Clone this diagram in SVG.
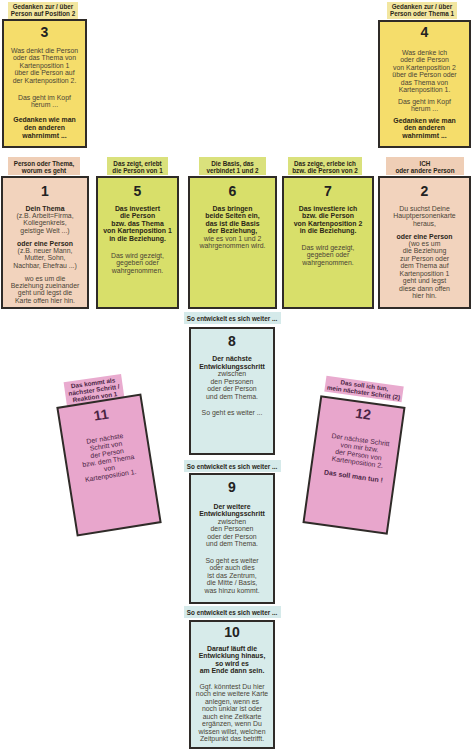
<svg xmlns="http://www.w3.org/2000/svg" width="474" height="750" viewBox="0 0 474 750">
<style>
text{font-family:"Liberation Sans",Arial,sans-serif;text-anchor:middle}
.card{stroke:#2f2b28;stroke-width:2}
.yel{fill:#f5dd6b}.yl{fill:#f2e6a0}
.grn{fill:#d8df6a}.gl{fill:#dae17c}
.pch{fill:#f2d3bd}.pl{fill:#efceb6}
.blu{fill:#d7ebea}.bl{fill:#d5eaea}
.pnk{fill:#e8a6cc}.pkl{fill:#e9abcf}
.num{font-size:14px;font-weight:bold;fill:#222}
.b{font-size:6.9px;font-weight:bold;fill:#2a2618}
.t{font-size:6.9px;fill:#4a4336}
.lbl{font-size:6.3px;font-weight:bold;fill:#2a2618}
.pk{fill:#4a2444}
</style>
<g id="label-3"><rect class="yl" x="8" y="2" width="70" height="17"/><text class="lbl" x="43" y="8.5">Gedanken zur / über</text><text class="lbl" x="43" y="16">Person auf Position 2</text></g>
<g id="card-3"><rect class="card yel" x="3" y="20" width="83" height="127"/>
<text class="num" x="44.5" y="37">3</text>
<text class="t" x="44.5" y="52.5">Was denkt die Person</text>
<text class="t" x="44.5" y="60">oder das Thema von</text>
<text class="t" x="44.5" y="67.5">Kartenposition 1</text>
<text class="t" x="44.5" y="75">über die Person auf</text>
<text class="t" x="44.5" y="82.5">der Kartenposition 2.</text>
<text class="t" x="44.5" y="99.5">Das geht im Kopf</text>
<text class="t" x="44.5" y="107">herum ...</text>
<text class="b" x="44.5" y="121.5">Gedanken wie man</text>
<text class="b" x="44.5" y="129.5">den anderen</text>
<text class="b" x="44.5" y="137.5">wahrnimmt ...</text></g>
<g id="label-4"><rect class="yl" x="387" y="2" width="70" height="17"/><text class="lbl" x="422" y="8.5">Gedanken zur / über</text><text class="lbl" x="422" y="16">Person oder Thema 1</text></g>
<g id="card-4"><rect class="card yel" x="379" y="21" width="91" height="126"/>
<text class="num" x="424.5" y="37">4</text>
<text class="t" x="424.5" y="54.5">Was denke ich</text>
<text class="t" x="424.5" y="62">oder die Person</text>
<text class="t" x="424.5" y="69.5">von Kartenposition 2</text>
<text class="t" x="424.5" y="77">über die Person oder</text>
<text class="t" x="424.5" y="84.5">das Thema von</text>
<text class="t" x="424.5" y="92">Kartenposition 1.</text>
<text class="t" x="424.5" y="103.5">Das geht im Kopf</text>
<text class="t" x="424.5" y="111">herum ...</text>
<text class="b" x="424.5" y="122.5">Gedanken wie man</text>
<text class="b" x="424.5" y="130">den anderen</text>
<text class="b" x="424.5" y="137.5">wahrnimmt ...</text></g>
<g id="label-1"><rect class="pl" x="8" y="157" width="72" height="18"/><text class="lbl" x="44" y="166">Person oder Thema,</text><text class="lbl" x="44" y="173">worum es geht</text></g>
<g id="card-1"><rect class="card pch" x="2" y="177" width="86" height="131"/>
<text class="num" x="45" y="196">1</text>
<text class="b" x="45" y="210.5">Dein Thema</text>
<text class="t" x="45" y="217.5">(z.B. Arbeit=Firma,</text>
<text class="t" x="45" y="225">Kollegenkreis,</text>
<text class="t" x="45" y="232.5">geistige Welt ...)</text>
<text class="b" x="45" y="245.5">oder eine Person</text>
<text class="t" x="45" y="252.5">(z.B. neuer Mann,</text>
<text class="t" x="45" y="260">Mutter, Sohn,</text>
<text class="t" x="45" y="267.5">Nachbar, Ehefrau ...)</text>
<text class="t" x="45" y="280.5">wo es um die</text>
<text class="t" x="45" y="287.5">Beziehung zueinander</text>
<text class="t" x="45" y="295">geht und legst die</text>
<text class="t" x="45" y="302.5">Karte offen hier hin.</text></g>
<g id="label-5"><rect class="gl" x="107" y="157" width="61" height="18"/><text class="lbl" x="137.5" y="166">Das zeigt, erlebt</text><text class="lbl" x="137.5" y="173">die Person von 1</text></g>
<g id="card-5"><rect class="card grn" x="97" y="177" width="81" height="131"/>
<text class="num" x="137.5" y="196">5</text>
<text class="b" x="137.5" y="210.5">Das investiert</text>
<text class="b" x="137.5" y="218">die Person</text>
<text class="b" x="137.5" y="225.5">bzw. das Thema</text>
<text class="b" x="137.5" y="233">von Kartenposition 1</text>
<text class="b" x="137.5" y="240.5">in die Beziehung.</text>
<text class="t" x="137.5" y="257.5">Das wird gezeigt,</text>
<text class="t" x="137.5" y="265">gegeben oder</text>
<text class="t" x="137.5" y="272.5">wahrgenommen.</text></g>
<g id="label-6"><rect class="gl" x="199" y="157" width="67" height="18"/><text class="lbl" x="232.5" y="166">Die Basis, das</text><text class="lbl" x="232.5" y="173">verbindet 1 und 2</text></g>
<g id="card-6"><rect class="card grn" x="189" y="177" width="87" height="131"/>
<text class="num" x="232.5" y="196">6</text>
<text class="b" x="232.5" y="210.5">Das bringen</text>
<text class="b" x="232.5" y="218">beide Seiten ein,</text>
<text class="b" x="232.5" y="225.5">das ist die Basis</text>
<text class="b" x="232.5" y="233">der Beziehung,</text>
<text class="t" x="232.5" y="240.5">wie es von 1 und 2</text>
<text class="t" x="232.5" y="248">wahrgenommen wird.</text></g>
<g id="label-7"><rect class="gl" x="288" y="157" width="74" height="18"/><text class="lbl" x="325" y="166">Das zeige, erlebe ich</text><text class="lbl" x="325" y="173">bzw. die Person von 2</text></g>
<g id="card-7"><rect class="card grn" x="283" y="177" width="90" height="131"/>
<text class="num" x="328" y="196">7</text>
<text class="b" x="328" y="210.5">Das investiere ich</text>
<text class="b" x="328" y="218">bzw. die Person</text>
<text class="b" x="328" y="225.5">von Kartenposition 2</text>
<text class="b" x="328" y="233">in die Beziehung.</text>
<text class="t" x="328" y="249.5">Das wird gezeigt,</text>
<text class="t" x="328" y="257">gegeben oder</text>
<text class="t" x="328" y="264.5">wahrgenommen.</text></g>
<g id="label-2"><rect class="pl" x="386" y="157" width="78" height="18"/><text class="lbl" x="425" y="166">ICH</text><text class="lbl" x="425" y="173">oder andere Person</text></g>
<g id="card-2"><rect class="card pch" x="379" y="177" width="91" height="131"/>
<text class="num" x="424.5" y="196">2</text>
<text class="t" x="424.5" y="210.5">Du suchst Deine</text>
<text class="t" x="424.5" y="218">Hauptpersonenkarte</text>
<text class="t" x="424.5" y="225.5">heraus,</text>
<text class="b" x="424.5" y="238.5">oder eine Person</text>
<text class="t" x="424.5" y="245.5">(wo es um</text>
<text class="t" x="424.5" y="253">die Beziehung</text>
<text class="t" x="424.5" y="260.5">zur Person oder</text>
<text class="t" x="424.5" y="268">dem Thema auf</text>
<text class="t" x="424.5" y="275.5">Kartenposition 1</text>
<text class="t" x="424.5" y="283">geht und legst</text>
<text class="t" x="424.5" y="290.5">diese dann offen</text>
<text class="t" x="424.5" y="298">hier hin.</text></g>
<g id="label-8"><rect class="bl" x="184" y="312" width="97" height="12"/><text class="lbl" x="232" y="320.5">So entwickelt es sich weiter ...</text></g>
<g id="card-8"><rect class="card blu" x="190" y="328" width="84" height="126"/>
<text class="num" x="232" y="346">8</text>
<text class="b" x="232" y="361">Der nächste</text>
<text class="b" x="232" y="368.5">Entwicklungsschritt</text>
<text class="t" x="232" y="376">zwischen</text>
<text class="t" x="232" y="383.5">den Personen</text>
<text class="t" x="232" y="391">oder der Person</text>
<text class="t" x="232" y="398.5">und dem Thema.</text>
<text class="t" x="232" y="415">So geht es weiter ...</text></g>
<g id="label-9"><rect class="bl" x="184" y="460" width="97" height="12"/><text class="lbl" x="232" y="468.5">So entwickelt es sich weiter ...</text></g>
<g id="card-9"><rect class="card blu" x="190" y="474" width="84" height="129"/>
<text class="num" x="232" y="492">9</text>
<text class="b" x="232" y="508.5">Der weitere</text>
<text class="b" x="232" y="516">Entwicklungsschritt</text>
<text class="t" x="232" y="523.5">zwischen</text>
<text class="t" x="232" y="531">den Personen</text>
<text class="t" x="232" y="538.5">oder der Person</text>
<text class="t" x="232" y="546">und dem Thema.</text>
<text class="t" x="232" y="562.5">So geht es weiter</text>
<text class="t" x="232" y="570">oder auch dies</text>
<text class="t" x="232" y="577.5">ist das Zentrum,</text>
<text class="t" x="232" y="585">die Mitte / Basis,</text>
<text class="t" x="232" y="592.5">was hinzu kommt.</text></g>
<g id="label-10"><rect class="bl" x="184" y="606" width="97" height="12"/><text class="lbl" x="232" y="614.5">So entwickelt es sich weiter ...</text></g>
<g id="card-10"><rect class="card blu" x="190" y="621" width="84" height="127"/>
<text class="num" x="232" y="637">10</text>
<text class="b" x="232" y="650.5">Darauf läuft die</text>
<text class="b" x="232" y="658">Entwicklung hinaus,</text>
<text class="b" x="232" y="665.5">so wird es</text>
<text class="b" x="232" y="673">am Ende dann sein.</text>
<text class="t" x="232" y="688.5">Ggf. könntest Du hier</text>
<text class="t" x="232" y="696">noch eine weitere Karte</text>
<text class="t" x="232" y="703.5">anlegen, wenn es</text>
<text class="t" x="232" y="711">noch unklar ist oder</text>
<text class="t" x="232" y="718.5">auch eine Zeitkarte</text>
<text class="t" x="232" y="726">ergänzen, wenn Du</text>
<text class="t" x="232" y="733.5">wissen willst, welchen</text>
<text class="t" x="232" y="741">Zeitpunkt das betrifft.</text></g>
<g id="label-11" transform="translate(94,390) rotate(-8)"><rect class="pkl" x="-29" y="-12" width="58" height="24"/>
<text class="lbl pk" x="0" y="-4.8">Das kommt als</text><text class="lbl pk" x="0" y="2.2">nächster Schritt /</text><text class="lbl pk" x="0" y="9.2">Reaktion von 1</text></g>
<g id="card-11" transform="translate(109,465) rotate(-9)"><rect class="card pnk" x="-42" y="-64.5" width="84" height="129"/>
<text class="num pk" x="0" y="-46">11</text>
<text class="t pk" x="0" y="-24.5">Der nächste</text>
<text class="t pk" x="0" y="-17">Schritt von</text>
<text class="t pk" x="0" y="-9.5">der Person</text>
<text class="t pk" x="0" y="-2">bzw. dem Thema</text>
<text class="t pk" x="0" y="5.5">von</text>
<text class="t pk" x="0" y="13">Kartenposition 1.</text></g>
<g id="label-12" transform="translate(364,389) rotate(8)"><rect class="pkl" x="-39" y="-8" width="78" height="16"/>
<text class="lbl pk" x="0" y="-1.3">Das soll ich tun,</text><text class="lbl pk" x="0" y="5.7">mein nächster Schritt (2)</text></g>
<g id="card-12" transform="translate(354,465) rotate(8)"><rect class="card pnk" x="-42" y="-63.5" width="84" height="127"/>
<text class="num pk" x="2" y="-47">12</text>
<text class="t pk" x="3" y="-23.5">Der nächste Schritt</text>
<text class="t pk" x="3" y="-16">von mir bzw.</text>
<text class="t pk" x="3" y="-8.5">der Person von</text>
<text class="t pk" x="3" y="-1">Kartenposition 2.</text>
<text class="b pk" x="1" y="13.5">Das soll man tun !</text></g>
<g id="connectors"/>
</svg>
